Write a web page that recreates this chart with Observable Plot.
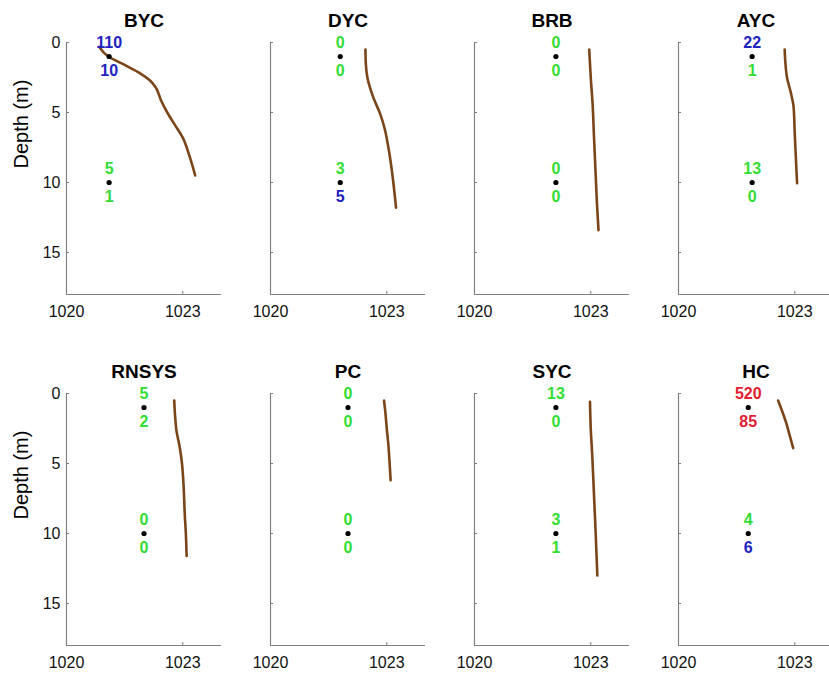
<!DOCTYPE html>
<html>
<head>
<meta charset="utf-8">
<script src="https://cdn.jsdelivr.net/npm/d3@7"></script>
<script src="https://cdn.jsdelivr.net/npm/@observablehq/plot@0.6"></script>
<style>
  html, body { margin: 0; padding: 0; background: #fff; }
  #chart { position: relative; width: 829px; height: 674px; overflow: hidden; background: #fff; font-family: "Liberation Sans", Arial, sans-serif; }
  #chart svg { position: absolute; }
</style>
</head>
<body>
<div id="chart"></div>
<script>
// ---------- data ----------
const stations = ["BYC", "DYC", "BRB", "AYC", "RNSYS", "PC", "SYC", "HC"];
const sampleDepths = [1, 10];                       // m
const sampleDensity = [1021.1, 1021.8, 1022.1, 1021.9, 1022.0, 1022.0, 1022.1, 1021.8];
// counts shown above / below the sample dot, per station, at [1 m, 10 m]
const countsAbove = [[110, 5], [0, 3], [0, 0], [22, 13], [5, 0], [0, 0], [13, 3], [520, 4]];
const countsBelow = [[10, 1], [0, 5], [0, 0], [1, 0], [2, 0], [0, 0], [0, 1], [85, 6]];
// level category of each count (low / moderate / high)
const levelAbove = [["moderate", "low"], ["low", "low"], ["low", "low"], ["moderate", "low"], ["low", "low"], ["low", "low"], ["low", "low"], ["high", "low"]];
const levelBelow = [["moderate", "low"], ["low", "moderate"], ["low", "low"], ["low", "low"], ["low", "low"], ["low", "low"], ["low", "low"], ["high", "moderate"]];
const levels = ["low", "moderate", "high"];
const levelColors = ["#33dd33", "#2222c0", "#e02030"];

// density profiles: [depth (m), density (kg/m3)]
const profileBYC = [[0.3, 1020.84], [1.0, 1021.08], [1.6, 1021.5], [2.2, 1021.9], [2.7, 1022.15], [3.2, 1022.3], [4.2, 1022.45], [5.0, 1022.6], [5.9, 1022.8], [6.8, 1023.0], [7.9, 1023.15], [8.8, 1023.25], [9.5, 1023.32]];
const profileDYC = [[0.5, 1022.45], [1.5, 1022.46], [2.5, 1022.5], [3.9, 1022.65], [5.1, 1022.83], [6.2, 1022.95], [7.3, 1023.03], [8.5, 1023.1], [10.0, 1023.17], [11.8, 1023.24]];
const profileBRB = [[0.5, 1022.96], [2.5, 1023.0], [4.5, 1023.05], [6.5, 1023.08], [9.0, 1023.12], [11.5, 1023.16], [13.4, 1023.2]];
const profileAYC = [[0.5, 1022.74], [1.5, 1022.76], [2.5, 1022.8], [3.6, 1022.9], [4.6, 1022.97], [6.5, 1023.0], [8.3, 1023.03], [10.05, 1023.06]];
const profileRNSYS = [[0.5, 1022.78], [1.5, 1022.8], [2.7, 1022.84], [3.8, 1022.92], [5.0, 1022.98], [6.5, 1023.02], [8.5, 1023.05], [10.0, 1023.08], [11.6, 1023.1]];
const profilePC = [[0.5, 1022.93], [1.5, 1022.97], [2.5, 1023.0], [3.6, 1023.04], [4.8, 1023.07], [6.2, 1023.1]];
const profileSYC = [[0.6, 1022.98], [2.5, 1023.0], [4.5, 1023.04], [7.0, 1023.08], [9.5, 1023.12], [13.0, 1023.17]];
const profileHC = [[0.5, 1022.57], [1.3, 1022.68], [2.1, 1022.78], [2.9, 1022.86], [3.9, 1022.96]];
const profiles = [profileBYC, profileDYC, profileBRB, profileAYC, profileRNSYS, profilePC, profileSYC, profileHC];

const xTicks = [1020, 1023];
const yTicks = [0, 5, 10, 15];
const xDomain = [1020, 1024];
const yDomain = [0, 18];
const yLabel = "Depth (m)";

// ---------- drawing ----------
const chart = document.getElementById("chart");
const axisGray = "#808080";
const font = "'Liberation Sans', Arial, sans-serif";

stations.forEach((name, i) => {
  const col = i % 4, row = Math.floor(i / 4);
  const samples = sampleDepths.map((d, k) => ({
    depth: d, density: sampleDensity[i],
    above: countsAbove[i][k], below: countsBelow[i][k],
    la: levelAbove[i][k], lb: levelBelow[i][k]
  }));
  const marks = [
    Plot.ruleX([xDomain[0]], {stroke: axisGray, strokeWidth: 1.2}),
    Plot.ruleY([yDomain[1]], {stroke: axisGray, strokeWidth: 1.2}),
    Plot.axisX({ticks: xTicks, tickSize: -3, tickPadding: 14, stroke: axisGray, fontSize: 16, fill: "#111", tickFormat: d => String(d), label: null}),
    Plot.axisY({ticks: yTicks, tickSize: -3, tickPadding: 9, stroke: axisGray, fontSize: 16, fill: "#111",
      tickFormat: col === 0 ? (d => String(d)) : (() => ""), label: null}),
    Plot.line(profiles[i], {x: d => d[1], y: d => d[0], stroke: "#7a4519", strokeWidth: 2.6, curve: "monotone-y"}),
    Plot.dot(samples, {x: "density", y: "depth", r: 2.6, fill: "#000"}),
    Plot.text(samples, {x: "density", y: "depth", text: d => String(d.above), fill: "la", dy: -14, fontSize: 16, fontWeight: "bold"}),
    Plot.text(samples, {x: "density", y: "depth", text: d => String(d.below), fill: "lb", dy: 14, fontSize: 16, fontWeight: "bold"}),
    Plot.text([name], {frameAnchor: "top", lineAnchor: "middle", dy: -22, fontSize: 19, fontWeight: "bold", fill: "#000"})
  ];
  if (col === 0) {
    marks.push(Plot.text([yLabel], {frameAnchor: "left", dx: -45, rotate: -90, fontSize: 20, fill: "#000"}));
  }
  const svg = Plot.plot({
    width: 231, height: 324,
    marginLeft: 66, marginRight: 10, marginTop: 42, marginBottom: 30,
    style: {background: "transparent", fontFamily: font, overflow: "visible"},
    x: {domain: xDomain, axis: null},
    y: {domain: yDomain, reverse: true, axis: null},
    color: {domain: levels, range: levelColors},
    marks
  });
  svg.style.left = (204 * col) + "px";
  svg.style.top = (351 * row) + "px";
  chart.appendChild(svg);
});
</script>
</body>
</html>
